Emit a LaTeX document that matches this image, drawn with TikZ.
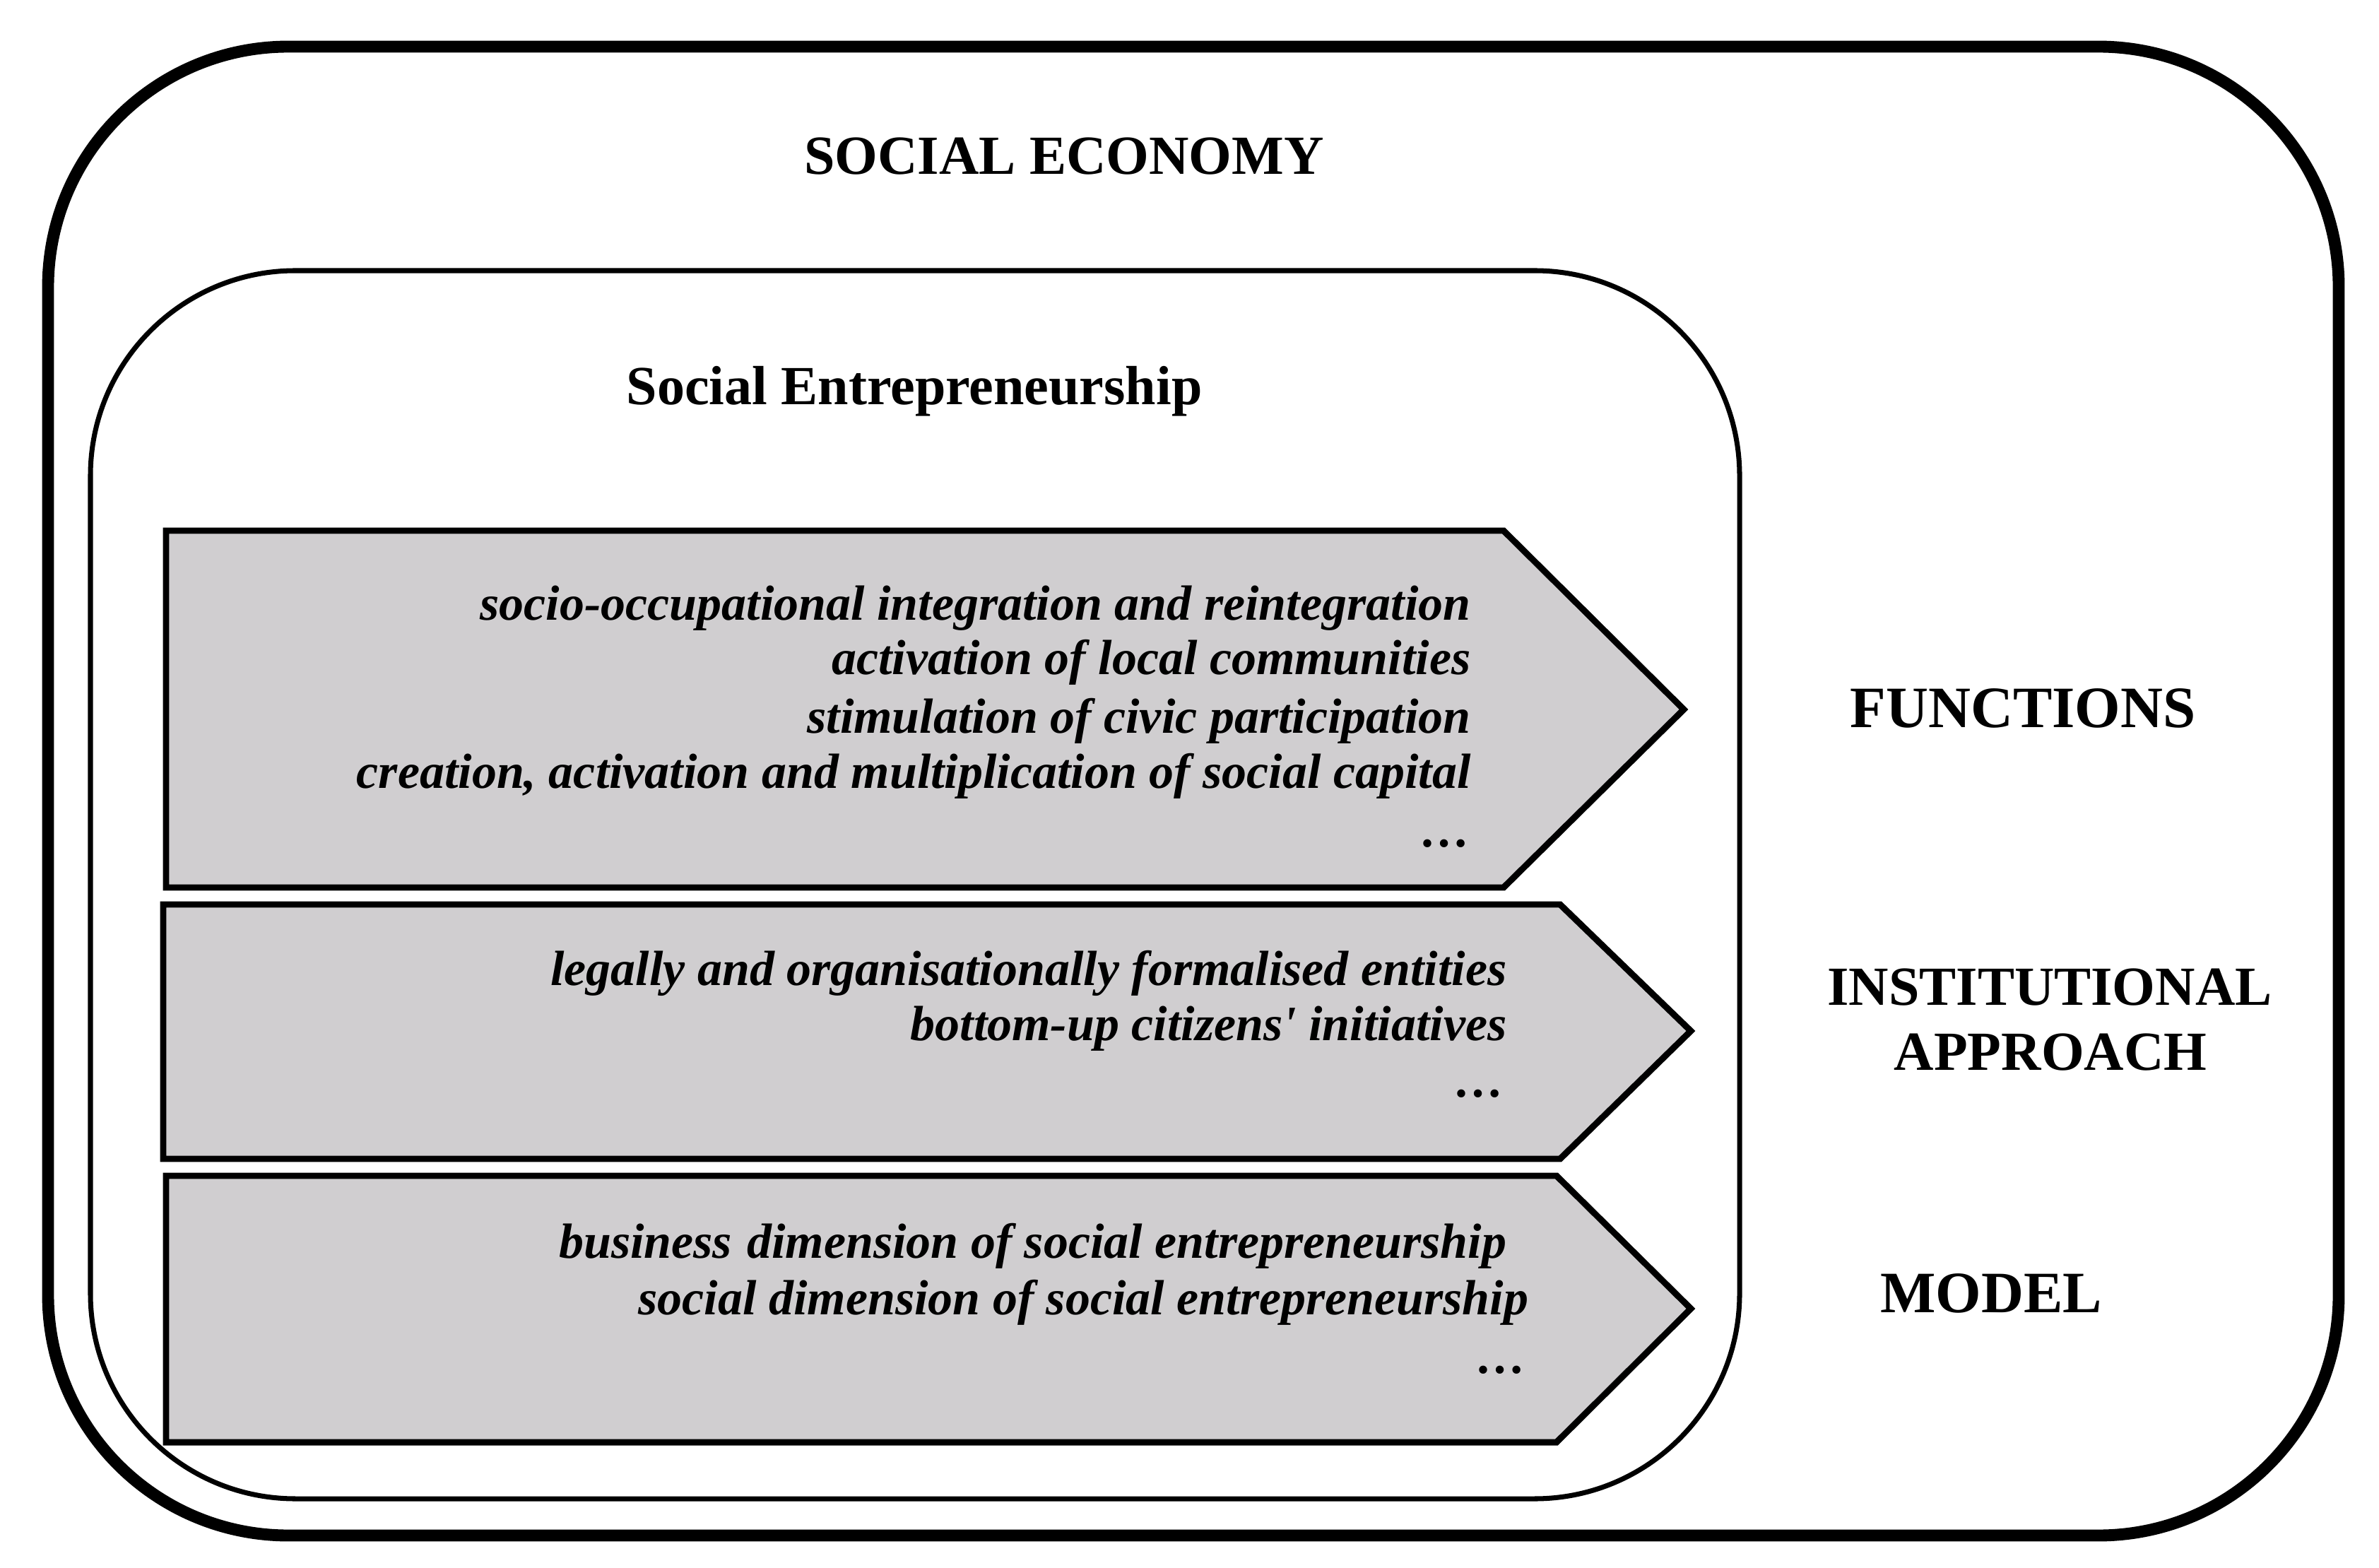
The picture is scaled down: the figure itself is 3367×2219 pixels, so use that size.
\documentclass[tikz,border=0pt]{standalone}
\usepackage{fontspec}
\setmainfont{Liberation Serif}

\definecolor{panelgray}{HTML}{D0CED0}

\tikzset{
  panel/.style={draw, line width=2.55pt, fill=panelgray, line join=miter},
  item/.style={anchor=base east, inner sep=0pt,
    font=\fontsize{19.9}{22.8}\selectfont\bfseries\itshape},
  head/.style={anchor=base, inner sep=0pt,
    font=\fontsize{22.2}{26}\selectfont\bfseries},
  side/.style={anchor=base, inner sep=0pt,
    font=\fontsize{23.6}{28}\selectfont\bfseries},
}

\begin{document}
\begin{tikzpicture}[x=0.01cm,y=-0.01cm]

      \useasboundingbox (0,0) rectangle (3367,2219);

      % frames
      \draw[line width=4.8pt, rounded corners=3.4cm] (68,66) rectangle (3310,2173);
      \draw[line width=2pt, rounded corners=2.9cm] (128,383) rectangle (2462,2121);

      \node[head] (economy) at (1506,247) {SOCIAL ECONOMY};
      \node[head] (entre) at (1294,573) {Social Entrepreneurship};

      % panels
      \draw[panel] (235,751) -- (2128,751) -- (2383,1004) -- (2128,1256) -- (235,1256) -- cycle;
      \draw[panel] (231,1280) -- (2208,1280) -- (2393,1459) -- (2208,1640) -- (231,1640) -- cycle;
      \draw[panel] (235,1664) -- (2203,1664) -- (2393,1852) -- (2203,2041) -- (235,2041) -- cycle;

      \node[item] (f1) at (2082,877) {socio-occupational integration and reintegration};
      \node[item] (f2) at (2082,955) {activation of local communities};
      \node[item] (f3) at (2082,1037) {stimulation of civic participation};
      \node[item] (f4) at (2082,1115) {creation, activation and multiplication of social capital};
      \node[item] (f5) at (2082,1198) {…};

      \node[item] (i1) at (2133,1394) {legally and organisationally formalised entities};
      \node[item] (i2) at (2133,1472) {bottom-up citizens\textquotesingle{} initiatives};
      \node[item] (i3) at (2130,1552) {…};

      \node[item] (m1) at (2133,1780) {business\hspace{0.05em} dimension of social entrepreneurship};
      \node[item] (m2) at (2164,1860) {social dimension of social entrepreneurship};
      \node[item] (m3) at (2161,1943) {…};

      % side labels
      \node[side] (functions) at (2863,1029) {FUNCTIONS};
      \node[head] (institutional) at (2901,1422) {INSTITUTIONAL};
      \node[head] (approach) at (2902,1514) {APPROACH};
      \node[side] (model) at (2818,1857) {MODEL};

    \end{tikzpicture}
\end{document}
